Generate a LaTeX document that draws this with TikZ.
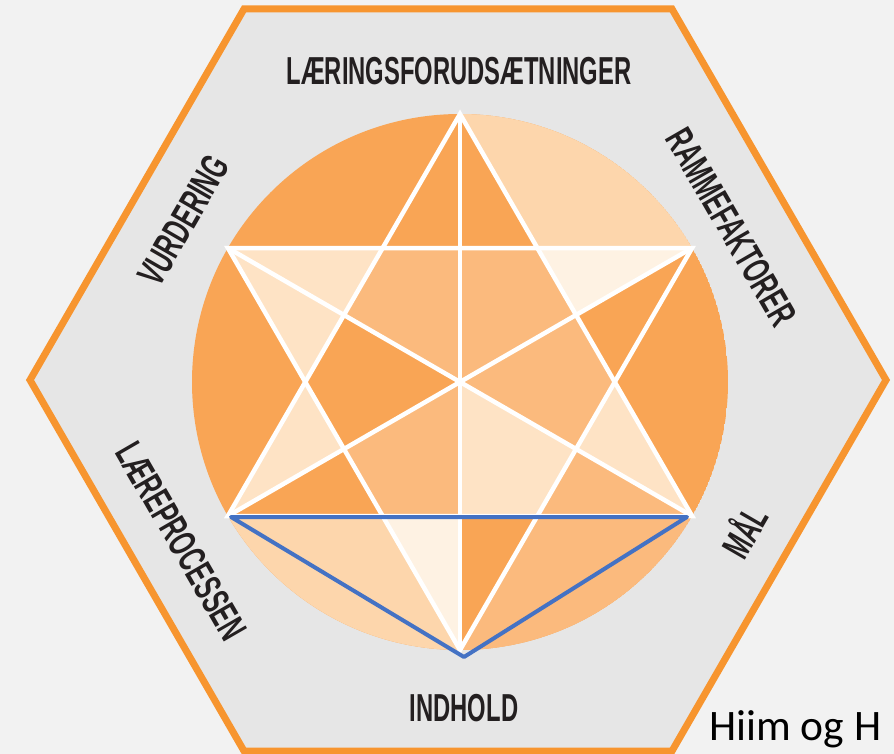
\documentclass[tikz,border=0pt]{standalone}
\usepackage{fontspec}
\setmainfont{Liberation Sans}
\newfontfamily\calfont{Carlito}
\newfontfamily\condfont[FakeStretch=0.61]{Liberation Sans}
\definecolor{bgout}{HTML}{F2F2F2}
\definecolor{hexfill}{HTML}{E6E6E6}
\definecolor{hexline}{HTML}{F7952F}
\definecolor{cdark}{HTML}{F9A555}
\definecolor{cmed}{HTML}{FBBA7D}
\definecolor{cpeach}{HTML}{FDD6AC}
\definecolor{clight}{HTML}{FEE3C5}
\definecolor{cvlight}{HTML}{FEF2E3}
\definecolor{txt}{HTML}{231F20}
\definecolor{blueln}{HTML}{4472C4}
\tikzset{
  lbl/.style={font=\condfont\bfseries\fontsize{39}{39}\selectfont, text=txt, inner sep=0pt, text height=28pt, text depth=0pt},
  hexedge/.style={draw=hexline, line width=7pt, fill=hexfill, line join=miter},
  whiteln/.style={draw=white, line width=4.5pt, line join=miter},
  blueedge/.style={draw=blueln, line width=4pt, line join=round}
}
\begin{document}
\begin{tikzpicture}[x=1pt,y=-1pt]
\clip (0,0) rectangle (894,754);
\fill[bgout] (0,0) rectangle (894,754);
\path[hexedge] (30,380) -- (244,9) -- (672,9) -- (886,380) -- (672,751) -- (244,751) -- cycle;

\begin{scope}[shift={(460,382)}, x=268pt, y=268pt]
  \coordinate (O) at (0,0);
  \coordinate (T) at (90:1);
  \coordinate (B) at (270:1);
  \coordinate (UL) at (150:1);
  \coordinate (UR) at (30:1);
  \coordinate (LL) at (210:1);
  \coordinate (LR) at (330:1);
  \coordinate (I0) at (0:0.57735);
  \coordinate (I60) at (60:0.57735);
  \coordinate (I120) at (120:0.57735);
  \coordinate (I180) at (180:0.57735);
  \coordinate (I240) at (240:0.57735);
  \coordinate (I300) at (300:0.57735);
  \coordinate (M30) at (30:0.5);
  \coordinate (M90) at (90:0.5);
  \coordinate (M150) at (150:0.5);
  \coordinate (M210) at (210:0.5);
  \coordinate (M270) at (270:0.5);
  \coordinate (M330) at (330:0.5);
  \begin{scope}
    \clip (O) circle (1);
    \fill[cdark] (O) circle (1);
    % outer segments
    \fill[cpeach] (T) -- (I60) -- (UR) -- (30:2) -- (90:2) -- cycle;
    \fill[cmed] (LR) -- (I300) -- (B) -- (270:2) -- (330:2) -- cycle;
    \fill[cpeach] (B) -- (I240) -- (LL) -- (210:2) -- (270:2) -- cycle;
    % star point halves
    \fill[cvlight] (UR) -- (I60) -- (M30) -- cycle;
    \fill[clight] (LR) -- (I0) -- (M330) -- cycle;
    \fill[cmed] (LR) -- (M330) -- (I300) -- cycle;
    \fill[cvlight] (B) -- (I240) -- (M270) -- cycle;
    \fill[clight] (LL) -- (M210) -- (I180) -- cycle;
    \fill[clight] (UL) -- (I120) -- (I180) -- cycle;
    % inner hexagon
    \fill[cmed] (I0) -- (I60) -- (I120) -- (I180) -- (I240) -- (I300) -- cycle;
    \fill[clight] (O) -- (M270) -- (I300) -- (M330) -- cycle;
    \fill[cdark] (O) -- (M150) -- (I180) -- (M210) -- cycle;
  \end{scope}
  \path[whiteln] (T) -- (LL) -- (LR) -- cycle;
  \path[whiteln] (B) -- (UL) -- (UR) -- cycle;
  \path[whiteln] (T) -- (B);
  \path[whiteln] (UL) -- (LR);
  \path[whiteln] (UR) -- (LL);
\end{scope}

\coordinate (bA) at (231,517);
\coordinate (bB) at (687,517);
\coordinate (bC) at (464,657);
\path[blueedge] (bA) -- (bB) -- (bC) -- cycle;

\node[lbl] (lf) at (459,71) {LÆRINGSFORUDSÆTNINGER};
\node[lbl] (ind) at (464,707) {INDHOLD};
\node[lbl, rotate=60] (vur) at (183,220) {VURDERING};
\node[lbl, rotate=-60] (ram) at (732,227) {RAMMEFAKTORER};
\node[lbl, rotate=-60] (lae) at (182,541) {LÆREPROCESSEN};
\node[lbl, rotate=60] (mal) at (745,532) {MÅL};
\node[font=\calfont\fontsize{43.5}{43.5}\selectfont, anchor=base west, inner sep=0pt, text=black] (cite) at (709,740) {Hiim og H};
\end{tikzpicture}
\end{document}
